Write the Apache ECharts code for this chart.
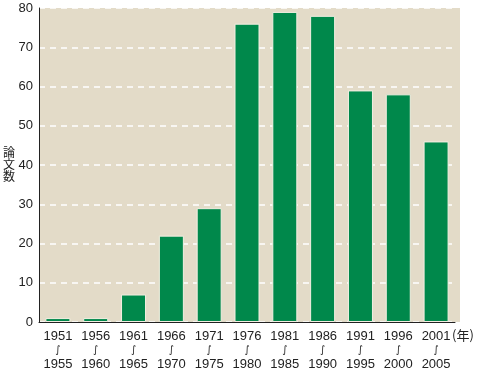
<!DOCTYPE html>
<html><head><meta charset="utf-8">
<script src="https://cdn.jsdelivr.net/npm/echarts@6/dist/echarts.min.js"></script>
<style>html,body{margin:0;padding:0;background:#fff}#c{width:480px;height:373px}</style>
</head><body><div id="c"></div>
<script>
const startYears = ['1951','1956','1961','1966','1971','1976','1981','1986','1991','1996','2001'];
const endYears = ['1955','1960','1965','1970','1975','1980','1985','1990','1995','2000','2005'];
const papers = [1, 1, 7, 22, 29, 76, 79, 78, 59, 58, 46];
const yTicks = [0, 10, 20, 30, 40, 50, 60, 70, 80];
const yTitle = '論文数';
const xUnit = '(年)';

const categories = startYears.map((s, i) => s + '\n{w|∫}\n' + endYears[i]);
const titleChars = yTitle.split('').map((ch, i) => ({
  type: 'text', left: 3, top: 146 + i * 12,
  style: { text: ch, fontSize: 12, fill: '#222', fontFamily: 'Noto Sans CJK JP' }
}));
const chart = echarts.init(document.getElementById('c'));
chart.setOption({
  animation: false,
  backgroundColor: '#fff',
  textStyle: { fontFamily: 'Liberation Sans, Arial, sans-serif' },
  grid: { left: 39, right: 25, top: 8, bottom: 51, show: true, backgroundColor: '#e3dbc8', borderWidth: 0 },
  xAxis: {
    type: 'category', data: categories,
    axisLine: { lineStyle: { color: '#222', width: 1 } },
    axisTick: { show: false },
    axisLabel: {
      color: '#222', fontSize: 13, lineHeight: 14, margin: 7, interval: 0,
      rich: { w: { fontSize: 10, lineHeight: 14, color: '#222', fontFamily: 'DejaVu Sans' } }
    }
  },
  yAxis: {
    type: 'value', min: yTicks[0], max: yTicks[yTicks.length - 1], interval: 10,
    axisLine: { show: true, lineStyle: { color: '#222', width: 1 } },
    axisTick: { show: false },
    axisLabel: { color: '#222', fontSize: 13, margin: 6 },
    splitLine: { show: true, lineStyle: { color: '#ffffff', type: [6, 5], width: 1.5 } }
  },
  series: [{
    type: 'bar', data: papers, barWidth: 25,
    itemStyle: { color: '#00884b', borderColor: '#f3efe2', borderWidth: 1 }
  }],
  graphic: [
    { type: 'rect', left: 455, top: 8, z: -10, shape: { width: 5, height: 314 }, style: { fill: '#e3dbc8' } },
    { type: 'text', left: 452, top: 329, style: { text: xUnit, fontSize: 13, fill: '#222', fontFamily: 'Noto Sans CJK JP' } }
  ].concat(titleChars)
});
</script></body></html>
